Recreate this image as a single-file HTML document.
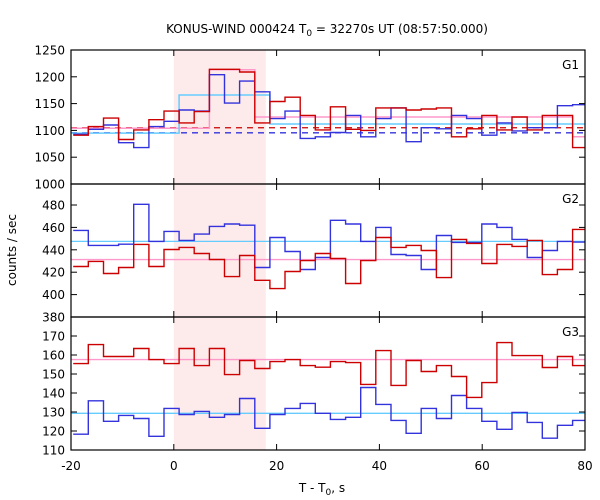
<!DOCTYPE html>
<html><head><meta charset="utf-8"><style>
body{margin:0;background:#fff;}
svg{display:block;font-family:"DejaVu Sans","Liberation Sans",sans-serif;}
</style></head><body>
<svg id="chart" width="600" height="500" xmlns="http://www.w3.org/2000/svg">
<text x="327" y="33" text-anchor="middle" font-size="12">KONUS-WIND 000424 T<tspan font-size="9" dy="3">0</tspan><tspan dy="-3"> = 32270s UT (08:57:50.000)</tspan></text>
<text x="322" y="492" text-anchor="middle" font-size="12">T - T<tspan font-size="9" dy="3">0</tspan><tspan dy="-3">, s</tspan></text>
<text transform="translate(16,250) rotate(-90)" text-anchor="middle" font-size="12">counts / sec</text>
</svg>
<script>
const xTicks=[-20,0,20,40,60,80];
const binStart=-16.63, binWidth=2.944;
const g1Red=[1091,1107,1123,1083,1101,1120,1136,1114,1135,1214,1214,1209,1114,1154,1162,1128,1101,1144,1102,1100,1142,1142,1138,1140,1142,1088,1103,1128,1101,1125,1101,1128,1128,1068];
const g1Blue=[1093,1102,1110,1077,1068,1107,1117,1138,1136,1204,1151,1192,1172,1122,1136,1085,1088,1096,1128,1088,1122,1142,1079,1105,1103,1128,1122,1091,1114,1099,1105,1105,1146,1148];
const g2Red=[425.1,429.6,418.8,424.2,444.8,425.1,440.3,442.1,436.7,431.3,416.1,434.9,412.8,405.4,420.6,430.4,436.7,432.2,409.9,430.4,451,442.1,443.9,439.4,415.2,449.3,445.7,427.8,444.8,443,448.4,417.9,422.4,458.2];
const g2Blue=[457.3,443.9,443.9,445,480.6,447.5,456.4,448.4,454,460.9,463,462,424.2,451,438.5,422.4,433.1,466.3,463,447.5,460,435.8,434.9,422.4,452.8,446.6,446.6,463,460,449.3,433.1,439.4,447.5,446.9];
const g3Red=[155.5,165.5,159.2,159.2,163.4,157.6,155.5,163.4,154.4,163.4,149.7,157.1,152.9,156.5,157.6,154.4,153.6,156.5,156,144.5,162.3,144,157.1,151.3,154.4,148.7,137.7,145.5,166.5,159.7,159.7,153.4,159.2,154.4];
const g3Blue=[118.3,135.9,125.1,128.2,126.6,117.2,131.9,128.7,130.3,127.2,128.7,137.1,121.4,128.7,131.9,134.5,129.3,126.1,127.2,142.9,134,125.6,118.8,131.9,126.6,138.7,131.9,125.1,120.9,129.8,124.5,116.2,123,125.6];
const g1PinkEdges=[-20,6.92,15.75,77.6,80];
const g1PinkVals=[1104,1213,1125,1088];
const g1CyanEdges=[-20,1.03,18.7,80];
const g1CyanVals=[1095,1166,1112];
const g1BgRed=1105, g1BgBlue=1095.5;
const g2Pink=431.3, g2Cyan=447.5;
const g3Pink=157.6, g3Cyan=129.3;
const g1Ticks=[1000,1050,1100,1150,1200,1250];
const g2Ticks=[380,400,420,440,460,480];
const g3Ticks=[110,120,130,140,150,160,170];
const shade=[0,17.9];

const NS="http://www.w3.org/2000/svg";
const svg=document.getElementById('chart');
const X0=71,X1=585;
function xs(t){return X0+(t+20)/100*(X1-X0);}
function mk(tag,attrs,parent){const e=document.createElementNS(NS,tag);for(const k in attrs)e.setAttribute(k,attrs[k]);(parent||svg).appendChild(e);return e;}
const panels=[
 {name:'g1',top:50,bot:184,v0:1000,v1:1250,ticks:g1Ticks,py0:184,py1:50,label:'G1'},
 {name:'g2',top:184,bot:317,v0:380,v1:480,ticks:g2Ticks,py0:317,py1:205,label:'G2'},
 {name:'g3',top:317,bot:450,v0:110,v1:170,ticks:g3Ticks,py0:450,py1:336,label:'G3'}
];
panels.forEach(p=>{p.y=v=>p.py0+(v-p.v0)/(p.v1-p.v0)*(p.py1-p.py0);});
const sh=mk('rect',{x:xs(shade[0]),y:50,width:xs(shade[1])-xs(shade[0]),height:400,fill:'#fdeaea'});


function binPath(vals,y){
  let d='';
  for(let i=0;i<vals.length;i++){
    let a=Math.max(-20,binStart+(i-1)*binWidth), b=Math.min(80,binStart+i*binWidth);
    if(i===vals.length-1)b=80;
    const yy=y(vals[i]).toFixed(1);
    d+=(i===0?'M':'L')+xs(a).toFixed(1)+','+yy+'L'+xs(b).toFixed(1)+','+yy;
  }
  return d;
}
function segPath(edges,vals,y){
  let d='';
  for(let i=0;i<vals.length;i++){const yy=y(vals[i]).toFixed(1);d+=(i===0?'M':'L')+xs(edges[i]).toFixed(1)+','+yy+'L'+xs(edges[i+1]).toFixed(1)+','+yy;}
  return d;
}
function hline(v,p,color,dash){const a={x1:X0,x2:X1,y1:p.y(v),y2:p.y(v),stroke:color,'stroke-width':1.3};if(dash)a['stroke-dasharray']=dash;return mk('line',a);}
const R='#cc0000',B='#3333dd',PK='#ff99cc',CY='#66ccff';
let e;
const P1=panels[0];
e=hline(g1BgRed,P1,R,'6,5');
e=hline(g1BgBlue,P1,B,'6,5');
e=mk('path',{d:segPath(g1PinkEdges,g1PinkVals,P1.y),fill:'none',stroke:PK,'stroke-width':1.5});
e=mk('path',{d:segPath(g1CyanEdges,g1CyanVals,P1.y),fill:'none',stroke:CY,'stroke-width':1.5});
e=mk('path',{d:binPath(g1Blue,P1.y),fill:'none',stroke:B,'stroke-width':1.4});
e=mk('path',{d:binPath(g1Red,P1.y),fill:'none',stroke:R,'stroke-width':1.4});
const P2=panels[1];
e=hline(g2Cyan,P2,CY);
e=hline(g2Pink,P2,PK);
e=mk('path',{d:binPath(g2Blue,P2.y),fill:'none',stroke:B,'stroke-width':1.4});
e=mk('path',{d:binPath(g2Red,P2.y),fill:'none',stroke:R,'stroke-width':1.4});
const P3=panels[2];
e=hline(g3Cyan,P3,CY);
e=hline(g3Pink,P3,PK);
e=mk('path',{d:binPath(g3Blue,P3.y),fill:'none',stroke:B,'stroke-width':1.4});
e=mk('path',{d:binPath(g3Red,P3.y),fill:'none',stroke:R,'stroke-width':1.4});
panels.forEach(p=>{
  e=mk('rect',{x:X0,y:p.top,width:X1-X0,height:p.bot-p.top,fill:'none',stroke:'#000','stroke-width':1.2});
  
  
  p.ticks.forEach(v=>{
    const y=p.y(v);
    mk('line',{x1:X0,x2:X0+6,y1:y,y2:y,stroke:'#000','stroke-width':1});
    mk('line',{x1:X1-6,x2:X1,y1:y,y2:y,stroke:'#000','stroke-width':1});
    e=mk('text',{x:X0-6,y:y+4.5,'text-anchor':'end','font-size':12});
    e.textContent=v;
    
    
  });
  xTicks.forEach(t=>{
    const x=xs(t);
    mk('line',{x1:x,x2:x,y1:p.top,y2:p.top+6,stroke:'#000','stroke-width':1});
    mk('line',{x1:x,x2:x,y1:p.bot-6,y2:p.bot,stroke:'#000','stroke-width':1});
  });
  e=mk('text',{x:X1-6,y:p.top+19,'text-anchor':'end','font-size':12});
  e.textContent=p.label;
  
  
});
xTicks.forEach(t=>{
  e=mk('text',{x:xs(t),y:470,'text-anchor':'middle','font-size':12});
  e.textContent=t;
  
  
});
</script>
</body></html>
